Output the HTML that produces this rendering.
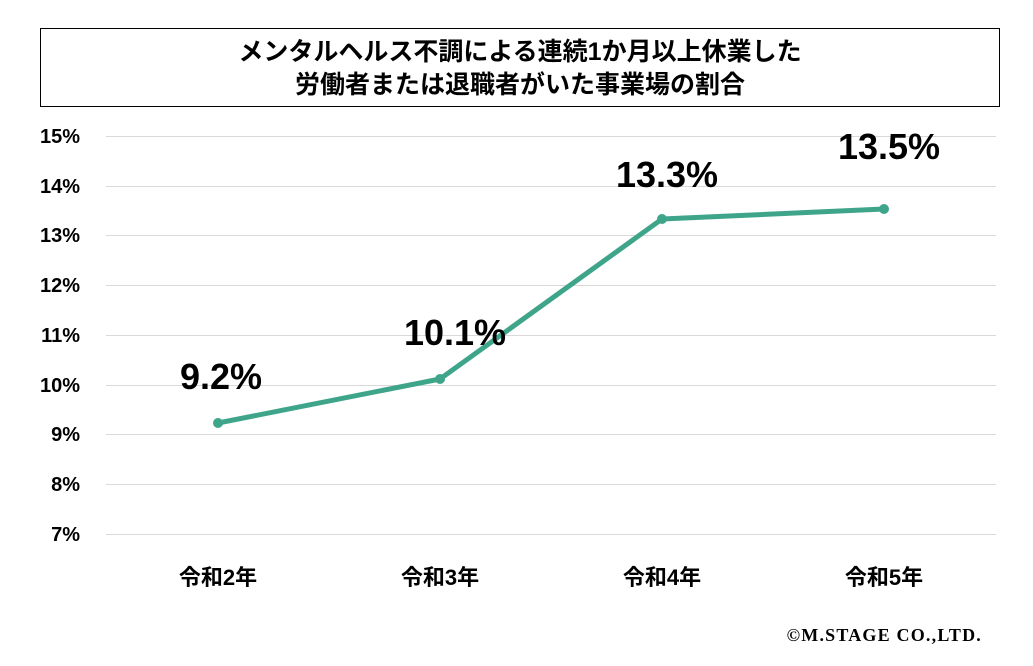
<!DOCTYPE html>
<html><head><meta charset="utf-8"><style>
body{margin:0;background:#fff;width:1033px;height:661px;overflow:hidden;font-family:"Liberation Sans","Noto Sans CJK JP",sans-serif}
</style></head><body>
<svg width="1033" height="661" viewBox="0 0 1033 661" xmlns="http://www.w3.org/2000/svg">
<rect x="40.5" y="28.5" width="959" height="78" fill="#fff" stroke="#000" stroke-width="1"/>
<text x="520" y="60" font-size="25" font-weight="bold" text-anchor="middle" font-family="Liberation Sans,Noto Sans CJK JP,sans-serif">メンタルヘルス不調による連続1か月以上休業した</text>
<text x="520" y="93" font-size="25" font-weight="bold" text-anchor="middle" font-family="Liberation Sans,Noto Sans CJK JP,sans-serif">労働者または退職者がいた事業場の割合</text>
<g stroke="#d9d9d9" stroke-width="1">
<line x1="106" x2="996" y1="136.5" y2="136.5"/><line x1="106" x2="996" y1="186.5" y2="186.5"/>
<line x1="106" x2="996" y1="235.5" y2="235.5"/><line x1="106" x2="996" y1="285.5" y2="285.5"/>
<line x1="106" x2="996" y1="335.5" y2="335.5"/><line x1="106" x2="996" y1="385.5" y2="385.5"/>
<line x1="106" x2="996" y1="434.5" y2="434.5"/><line x1="106" x2="996" y1="484.5" y2="484.5"/>
<line x1="106" x2="996" y1="534.5" y2="534.5"/>
</g>
<g font-size="20" font-weight="bold" text-anchor="end" font-family="Liberation Sans,sans-serif">
<text x="80" y="143">15%</text><text x="80" y="193">14%</text><text x="80" y="242">13%</text>
<text x="80" y="292">12%</text><text x="80" y="342">11%</text><text x="80" y="392">10%</text>
<text x="80" y="441">9%</text><text x="80" y="491">8%</text><text x="80" y="541">7%</text>
</g>
<polyline points="218,423 440,379 662,219 884,209" fill="none" stroke="#3fa58a" stroke-width="5" stroke-linejoin="round"/>
<g fill="#3fa58a"><circle cx="218" cy="423" r="5"/><circle cx="440" cy="379" r="5"/><circle cx="662" cy="219" r="5"/><circle cx="884" cy="209" r="5"/></g>
<g font-size="36" font-weight="bold" text-anchor="middle" font-family="Liberation Sans,sans-serif">
<text x="221" y="389">9.2%</text><text x="455" y="345">10.1%</text><text x="667" y="187">13.3%</text><text x="889" y="159">13.5%</text>
</g>
<g font-size="22" font-weight="bold" text-anchor="middle" font-family="Liberation Sans,Noto Sans CJK JP,sans-serif">
<text x="218" y="585">令和2年</text><text x="440" y="585">令和3年</text><text x="662" y="585">令和4年</text><text x="884" y="585">令和5年</text>
</g>
<text x="982" y="641" font-size="18" font-weight="bold" text-anchor="end" font-family="Liberation Serif,serif" letter-spacing="1.2">©M.STAGE  CO.,LTD.</text>
</svg>
</body></html>
